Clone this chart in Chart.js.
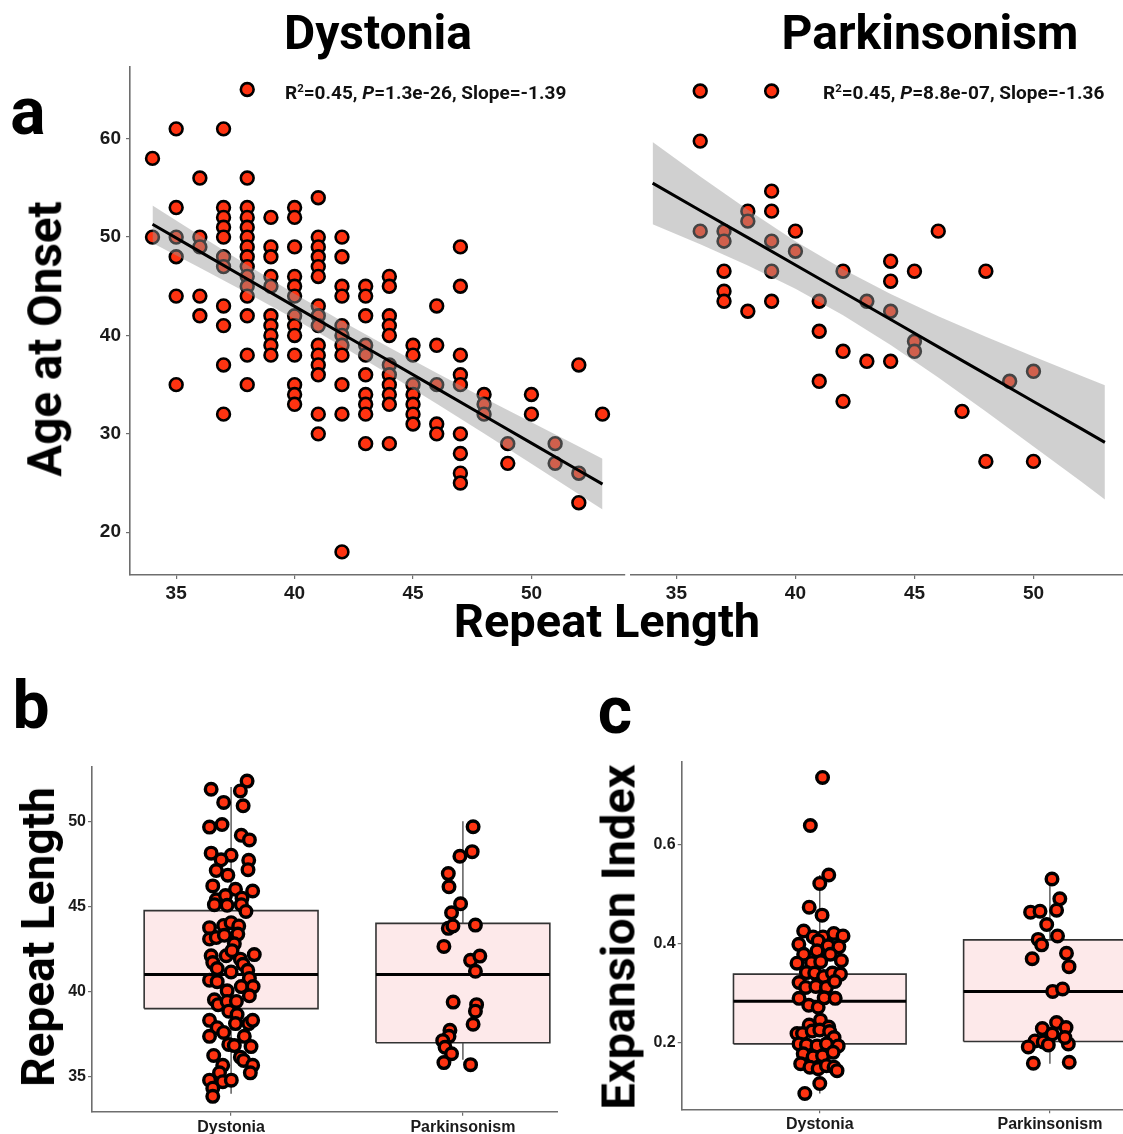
<!DOCTYPE html>
<html>
<head>
<meta charset="utf-8">
<script src="https://cdn.jsdelivr.net/npm/chart.js@4.4.1/dist/chart.umd.min.js"></script>
<style>
html, body { margin: 0; padding: 0; background: #fff; overflow: hidden; }
#page { position: relative; width: 1123px; height: 1134px; overflow: hidden; background: #fff; }
canvas { position: absolute; }
.lbl { position: absolute; white-space: nowrap; font-family: Roboto, sans-serif; font-weight: 700; color: #000; line-height: 1; z-index: 5; transform: translate(-50%, -50%); }
.rot { transform: translate(-50%, -50%) rotate(-90deg); }
.note { position: absolute; white-space: nowrap; font-family: Roboto, sans-serif; font-weight: 700; font-size: 19px; color: #111; line-height: 1; z-index: 5; transform: translateY(-50%); }
.note sup { font-size: 0.6em; vertical-align: 0.55em; line-height: 0; }
</style>
</head>
<body>
<div id="page">
  <canvas id="scatterDyst" width="560" height="552" style="left:70px;top:50px"></canvas>
  <canvas id="scatterPark" width="500" height="552" style="left:630px;top:50px"></canvas>
  <canvas id="boxRepeat" width="547" height="379" style="left:55px;top:755px"></canvas>
  <canvas id="boxExpansion" width="630" height="384" style="left:558px;top:750px;background:#fff"></canvas>

  <div class="lbl" style="left:378px;top:33px;font-size:48px">Dystonia</div>
  <div class="lbl" style="left:930px;top:33px;font-size:48px">Parkinsonism</div>
  <div class="lbl" style="left:28px;top:112px;font-size:66px">a</div>
  <div class="lbl" style="left:31px;top:706px;font-size:66px">b</div>
  <div class="lbl" style="left:615px;top:711px;font-size:66px">c</div>
  <div class="lbl rot" style="left:46px;top:339px;font-size:47.5px">Age at Onset</div>
  <div class="lbl" style="left:607px;top:620px;font-size:47px">Repeat Length</div>
  <div class="lbl rot" style="left:38px;top:937px;font-size:46px">Repeat Length</div>
  <div class="lbl rot" style="left:618px;top:937px;font-size:47px">Expansion Index</div>
  <div class="note" style="left:285px;top:92px">R<sup>2</sup>=0.45, <i>P</i>=1.3e-26, Slope=-1.39</div>
  <div class="note" style="left:823px;top:92px">R<sup>2</sup>=0.45, <i>P</i>=8.8e-07, Slope=-1.36</div>
</div>
<script>
// panel a: age at onset against repeat length
var dystRepeatLengths = [34, 35, 36, 37, 38, 39, 40, 41, 42, 43, 44, 45, 46, 47, 48, 49, 50, 51, 52, 53];
var dystOnsetAges = [
  [58, 50],
  [61, 53, 50, 48, 44, 35],
  [56, 50, 49, 44, 42],
  [61, 53, 52, 51, 50, 48, 47, 43, 41, 37, 32],
  [65, 56, 53, 52, 51, 50, 49, 48, 47, 46, 45, 44, 42, 38, 35],
  [52, 49, 48, 46, 45, 42, 41, 40, 39, 38],
  [53, 52, 49, 46, 45, 44, 42, 41, 40, 38, 35, 34, 33],
  [54, 50, 49, 48, 47, 46, 43, 42, 41, 39, 38, 37, 36, 32, 30],
  [50, 48, 45, 44, 41, 40, 39, 38, 35, 32, 18],
  [45, 44, 42, 39, 38, 36, 34, 33, 32, 29],
  [46, 45, 42, 41, 40, 37, 36, 35, 34, 33, 29],
  [39, 38, 35, 34, 33, 32, 31],
  [43, 39, 35, 31, 30],
  [49, 45, 38, 36, 35, 30, 28, 26, 25],
  [34, 33, 32],
  [29, 27],
  [34, 32],
  [29, 27],
  [37, 26, 23],
  [32]
];
var parkRepeatLengths = [36, 37, 38, 39, 40, 41, 42, 43, 44, 45, 46, 47, 48, 49, 50];
var parkOnsetAges = [
  [64, 59, 50],
  [50, 49, 46, 44, 43],
  [52, 51, 42],
  [64, 54, 52, 49, 46, 43],
  [50, 48],
  [43, 40, 35],
  [46, 38, 33],
  [43, 37],
  [47, 45, 42, 37],
  [46, 39, 38],
  [50],
  [32],
  [46, 27],
  [35],
  [36, 27]
];

// fitted lines with confidence bands
var fitX = [34, 36, 38, 40, 42, 44, 46, 48, 50, 52, 53];
var dystFit = [51.3, 48.52, 45.74, 42.96, 40.18, 37.4, 34.62, 31.84, 29.06, 26.28, 24.89];
var dystUpper = [53.2, 50.15, 47.16, 44.25, 41.45, 38.77, 36.18, 33.65, 31.17, 28.7, 27.47];
var dystLower = [49.4, 46.89, 44.32, 41.67, 38.91, 36.03, 33.06, 30.03, 26.95, 23.86, 22.31];
var parkFit = [54.8, 52.07, 49.35, 46.62, 43.9, 41.17, 38.44, 35.72, 32.99, 30.27, 28.9];
var parkUpper = [58.9, 55.45, 52.13, 49.0, 46.19, 43.72, 41.5, 39.45, 37.48, 35.56, 34.6];
var parkLower = [50.7, 48.69, 46.57, 44.24, 41.61, 38.62, 35.38, 31.99, 28.5, 24.98, 23.2];

var ageTicks = [20, 30, 40, 50, 60];
var repeatTicks = [35, 40, 45, 50];

// panels b and c: box plots with jittered points
var groups = ['Dystonia', 'Parkinsonism'];
var repeatMin = [34, 36];
var repeatQ1 = [39, 37];
var repeatMedian = [41, 41];
var repeatQ3 = [44.75, 44];
var repeatMax = [52, 50];
var expansionMin = [0.097, 0.157];
var expansionQ1 = [0.197, 0.202];
var expansionMedian = [0.283, 0.303];
var expansionQ3 = [0.338, 0.407];
var expansionMax = [0.538, 0.527];

var dystRepeatJitter = [.069, -.086, .04, -.032, .052, -.093, -.039, .044, .079, -.086,
  0, -.043, .076, .073, -.064, -.014, -.079, .019, .093, -.064,
  -.024, .047, -.072, -.017, .044, .064, -.093, -.032, 0, .033,
  -.093, -.064, -.029, .029, .014, -.086, -.021, .04, .1, .004,
  -.079, -.06, 0, .052, .072, .079, -.093, -.06, -.017, .044,
  .095, -.072, -.056, -.017, .023, .079, -.093, -.06, -.032, -.01,
  .026, .019, .076, .093, -.093, .057, -.01, .014, .086, -.075,
  .04, .054, -.036, .093, -.05, .083, -.093, -.036, .001, -.079, -.079];
var dystRepeatValues = [52.35, 51.87, 51.77, 51.1, 50.9, 49.65, 49.8, 49.17, 48.9, 48.12,
  48.0, 47.73, 47.7, 47.15, 47.1, 46.83, 46.2, 46.0, 45.9, 45.38,
  45.63, 45.48, 45.1, 45.06, 45.1, 44.7, 43.75, 43.88, 44.04, 43.85,
  43.08, 43.17, 43.3, 43.37, 42.8, 42.1, 42.1, 41.9, 42.17, 42.4,
  41.7, 41.35, 41.15, 41.6, 41.25, 40.77, 40.67, 40.58, 40.04, 40.29,
  40.29, 39.52, 39.23, 39.42, 39.42, 39.75, 38.31, 37.88, 37.6, 38.85,
  38.65, 38.12, 38.12, 38.31, 37.37, 37.37, 36.9, 36.83, 36.77, 36.25,
  36.15, 35.96, 35.67, 35.67, 35.23, 35.23, 34.8, 34.71, 34.8, 34.33, 33.85];
var parkRepeatJitter = [.044, -.013, .04, -.063, -.06, -.01, -.049, -.063, -.043, .054,
  -.082, .033, .073, .054, -.042, .059, .054, .044, -.056, -.06,
  -.087, -.077, -.049, -.082, .033];
var parkRepeatValues = [49.67, 47.94, 48.21, 46.92, 46.15, 45.15, 44.62, 43.71, 43.85, 43.9,
  42.65, 41.83, 42.08, 41.19, 39.38, 39.23, 38.85, 38.08, 37.73, 37.37,
  37.12, 36.73, 36.35, 35.83, 35.71];

var dystExpansionJitter = [.012, -.041, .039, 0, -.046, .01, -.07, -.029, .014, .061,
  .101, -.091, -.007, .036, .083, -.07, -.012, .046, -.099, -.036,
  .004, .094, -.058, -.022, .017, .055, .09, -.09, -.061, -.017,
  .029, .065, -.09, -.048, -.007, .019, .067, .003, -.046, .039,
  -.099, -.075, -.033, 0, .043, .062, -.09, -.058, -.012, .029,
  .08, -.072, -.029, .012, .058, -.083, -.043, -.007, .029, .062,
  .075, 0, -.065];
var dystExpansionValues = [.735, .638, .538, .521, .473, .457, .425, .413, .413, .42,
  .415, .398, .405, .395, .393, .378, .385, .378, .36, .361,
  .363, .365, .341, .34, .333, .34, .338, .321, .311, .313,
  .311, .323, .289, .275, .271, .29, .289, .245, .235, .231,
  .218, .218, .223, .225, .222, .21, .197, .195, .193, .197,
  .193, .177, .171, .173, .18, .157, .15, .147, .153, .15,
  .143, .117, .097];
var parkExpansionJitter = [.009, .043, -.084, -.043, .029, -.014, .033, -.051, -.036, .072,
  -.077, .083, .012, .055, .029, -.033, .07, .01, -.065, -.029,
  -.007, -.094, .08, .065, -.072, .084];
var parkExpansionValues = [.53, .49, .463, .465, .467, .438, .415, .408, .397, .38,
  .369, .353, .303, .308, .24, .228, .23, .217, .203, .201,
  .195, .191, .197, .21, .158, .16];
var expansionTicks = [0.2, 0.4, 0.6];

var POINT_RED = '#FF3311';
var BAND_GREY = 'rgba(150,150,150,0.45)';
var BOX_PINK = '#FDE9EA';
var AXIS_GREY = '#6e6e6e';
var BOX_HALF = 0.375;
var NONE = 'rgba(0,0,0,0)';

function flatten(lengths, ages) {
  var pts = [];
  lengths.forEach(function(len, i) {
    ages[i].forEach(function(a) { pts.push({x: len, y: a}); });
  });
  return pts;
}

function pairs(xs, ys) {
  return xs.map(function(x, i) { return {x: x, y: ys[i]}; });
}

function jitter(group, offsets, values) {
  return offsets.map(function(d, i) { return {x: group + d, y: values[i]}; });
}

function axis(min, max, tickValues, o) {
  var ticks = {
    color: '#1a1a1a',
    font: {family: 'Liberation Sans', weight: 'bold', size: o.font},
    padding: o.pad,
    maxRotation: 0,
    autoSkip: false
  };
  if (o.labels) ticks.callback = function(v) { return o.labels[v - 1]; };
  return {
    type: 'linear',
    min: min,
    max: max,
    display: o.display !== false,
    afterBuildTicks: function(scale) {
      scale.ticks = tickValues.map(function(v) { return {value: v}; });
    },
    afterFit: function(scale) {
      if (scale.isHorizontal()) scale.height = o.size; else scale.width = o.size;
    },
    border: {display: true, color: AXIS_GREY, width: 1.6},
    grid: {drawOnChartArea: false, drawTicks: true, tickLength: 4, color: AXIS_GREY, lineWidth: 1.2},
    ticks: ticks
  };
}

function options(x, y, padding) {
  return {
    responsive: false,
    animation: false,
    events: [],
    layout: {padding: padding, autoPadding: false},
    plugins: {legend: {display: false}, tooltip: {enabled: false}},
    scales: {x: x, y: y}
  };
}

function pointSet(data, radius, border, order) {
  return {
    data: data,
    showLine: false,
    pointRadius: radius,
    pointHoverRadius: radius,
    pointBorderWidth: border,
    pointBackgroundColor: POINT_RED,
    pointBorderColor: '#000',
    order: order
  };
}

function lineSet(data, color, width, order, extra) {
  var s = {data: data, showLine: true, pointRadius: 0, borderColor: color, borderWidth: width, fill: false, order: order};
  for (var k in extra) s[k] = extra[k];
  return s;
}

function scatterSets(lengths, ages, fit, lower, upper) {
  return [
    lineSet(pairs(fitX, fit), '#000', 3, 0),
    lineSet(pairs(fitX, lower), NONE, 0, 1),
    lineSet(pairs(fitX, upper), NONE, 0, 1, {fill: '-1', backgroundColor: BAND_GREY}),
    pointSet(flatten(lengths, ages), 6.4, 2.6, 2)
  ];
}

function boxSets(lo, q1, med, q3, hi) {
  var sets = [];
  q1.forEach(function(_, i) {
    var c = i + 1, l = c - BOX_HALF, r = c + BOX_HALF;
    sets.push(lineSet([{x: l, y: q1[i]}, {x: r, y: q1[i]}, {x: r, y: q3[i]}, {x: l, y: q3[i]}, {x: l, y: q1[i]}],
      '#333', 1.6, 4, {fill: 'shape', backgroundColor: BOX_PINK}));
    sets.push(lineSet([{x: c, y: q3[i]}, {x: c, y: hi[i]}], '#444', 1.3, 3));
    sets.push(lineSet([{x: c, y: lo[i]}, {x: c, y: q1[i]}], '#444', 1.3, 3));
    sets.push(lineSet([{x: l, y: med[i]}, {x: r, y: med[i]}], '#000', 3, 2));
  });
  return sets;
}

new Chart(document.getElementById('scatterDyst'), {
  type: 'scatter',
  data: {datasets: scatterSets(dystRepeatLengths, dystOnsetAges, dystFit, dystLower, dystUpper)},
  options: options(
    axis(33.05, 53.95, repeatTicks, {font: 19, size: 27, pad: 3}),
    axis(15.65, 67.35, ageTicks, {font: 19, size: 60, pad: 5}),
    {top: 7.5, right: 5, left: 0, bottom: 0})
});

new Chart(document.getElementById('scatterPark'), {
  type: 'scatter',
  data: {datasets: scatterSets(parkRepeatLengths, parkOnsetAges, parkFit, parkLower, parkUpper)},
  options: options(
    axis(33.05, 53.95, repeatTicks, {font: 19, size: 27, pad: 3}),
    axis(15.65, 67.35, ageTicks, {font: 19, size: 0, pad: 5, display: false}),
    {top: 7.5, right: 2.5, left: 0, bottom: 0})
});

new Chart(document.getElementById('boxRepeat'), {
  type: 'scatter',
  data: {datasets: boxSets(repeatMin, repeatQ1, repeatMedian, repeatQ3, repeatMax).concat([
    pointSet(jitter(1, dystRepeatJitter, dystRepeatValues), 5.8, 3.4, 0),
    pointSet(jitter(2, parkRepeatJitter, parkRepeatValues), 5.8, 3.4, 0)
  ])},
  options: options(
    axis(0.4, 2.6, [1, 2], {font: 16, size: 22.3, pad: 2, labels: groups}),
    axis(32.95, 53.2, repeatTicks, {font: 16, size: 37, pad: 2}),
    {top: 6.7, right: 0, left: 0, bottom: 0})
});

new Chart(document.getElementById('boxExpansion'), {
  type: 'scatter',
  data: {datasets: boxSets(expansionMin, expansionQ1, expansionMedian, expansionQ3, expansionMax).concat([
    pointSet(jitter(1, dystExpansionJitter, dystExpansionValues), 5.8, 3.4, 0),
    pointSet(jitter(2, parkExpansionJitter, parkExpansionValues), 5.8, 3.4, 0)
  ])},
  options: options(
    axis(0.4, 2.6, [1, 2], {font: 16, size: 24.7, pad: 2, labels: groups}),
    axis(0.065, 0.767, expansionTicks, {font: 16, size: 123.7, pad: 2}),
    {top: 8.3, right: 0, left: 0, bottom: 0})
});
</script>
</body>
</html>
